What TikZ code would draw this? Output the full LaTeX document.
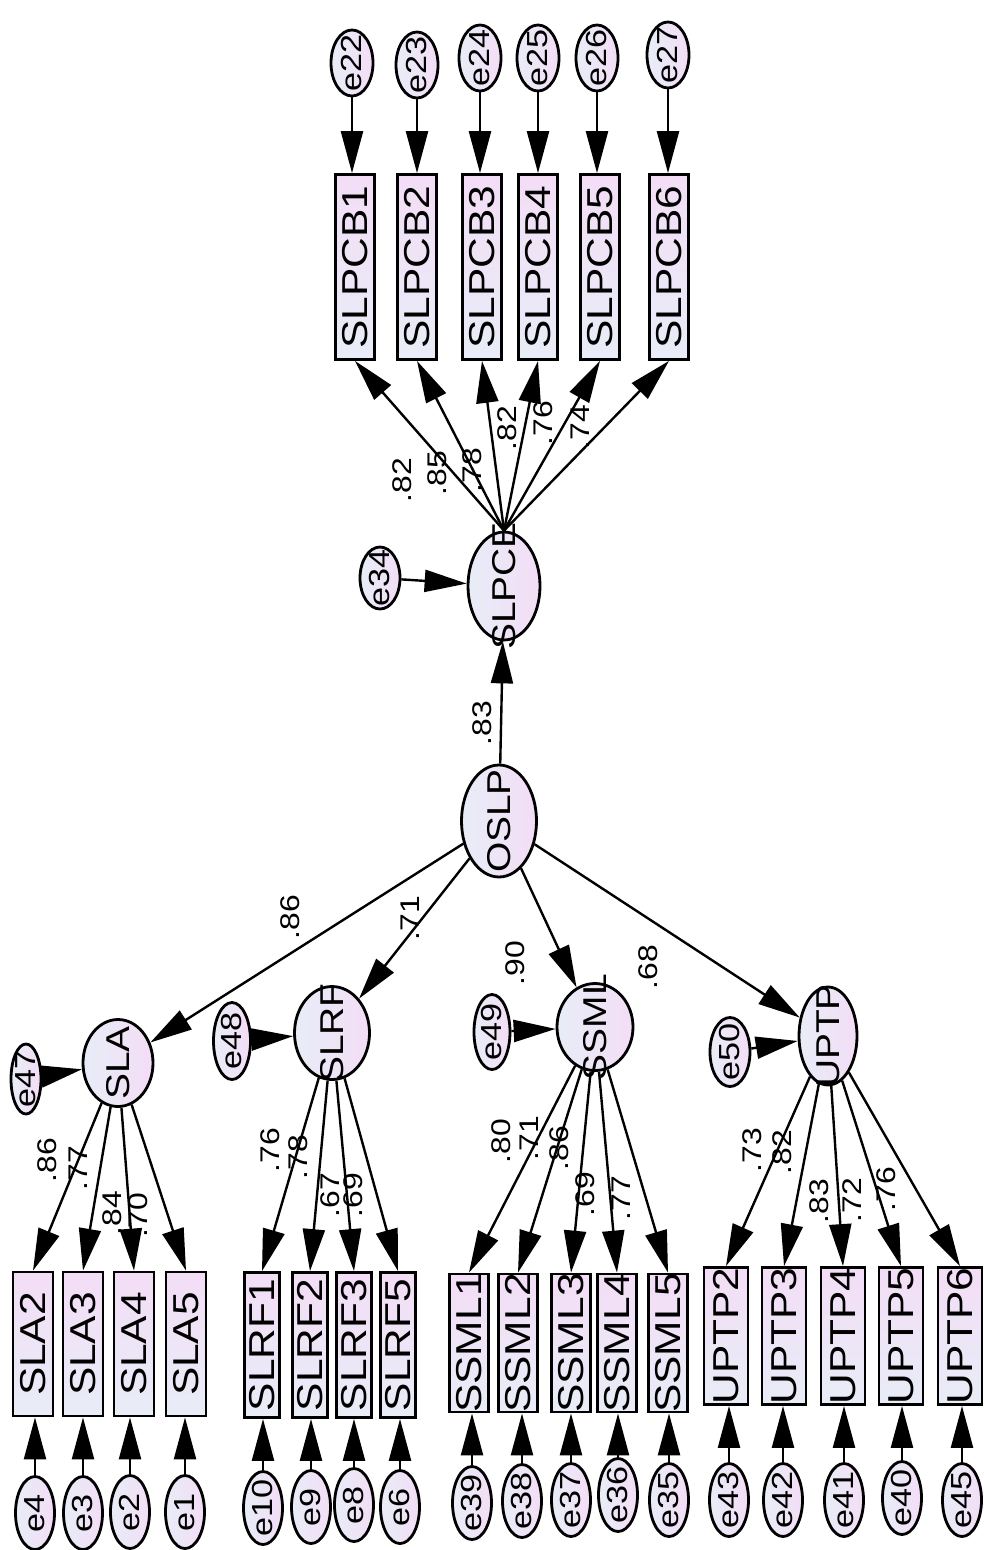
\documentclass[tikz,border=0pt]{standalone}
\usepackage{fontspec}
\setmainfont{Liberation Sans}
\usetikzlibrary{shapes.geometric,arrows.meta}
\definecolor{pinkc}{RGB}{243,221,246}
\definecolor{bluec}{RGB}{232,237,247}
\newcommand{\vtxt}[1]{\rotatebox{90}{\scalebox{1.18}[1]{#1}}}
\tikzset{
  obs/.style={draw, line width=2.8pt, rectangle, top color=pinkc, bottom color=bluec, inner sep=0pt},
  lat/.style={draw, line width=2.8pt, ellipse, shading angle=60, left color=bluec, right color=pinkc, inner sep=0pt},
  err/.style={draw, line width=2.8pt, ellipse, shading angle=60, left color=bluec, right color=pinkc, inner sep=0pt},
  obst/.style={label={[inner sep=0pt, font=\fontsize{36}{38}\selectfont]center:\vtxt{#1}}},
  latt/.style={label={[inner sep=0pt, font=\fontsize{33}{35}\selectfont]center:\vtxt{#1}}},
  errt/.style={label={[inner sep=0pt, font=\fontsize{29}{31}\selectfont]center:\vtxt{#1}}},
  lab/.style={inner sep=0pt, font=\fontsize{27}{29}\selectfont},
  arr/.style={-{Triangle[length=42pt,width=22pt]}, line width=2.4pt},
}
\begin{document}
\begin{tikzpicture}[x=1pt,y=-1pt]
\useasboundingbox (0,0) rectangle (984,1550);
% ---------- top error terms ----------
\foreach \n/\x/\y in {22/352/63, 23/417/65, 24/480/58, 25/538/58, 26/597/58, 27/668/55}
  \node[err, errt={e\n}, minimum width=42pt, minimum height=66pt] (e\n) at (\x,\y) {};
% ---------- SLPCB boxes ----------
\foreach \n/\x in {1/355, 2/417, 3/482, 4/538, 5/600, 6/669}
  \node[obs, obst={SLPCB\n}, minimum width=39pt, minimum height=185pt] (SLPCB\n) at (\x,267) {};
\foreach \n/\b in {22/1, 23/2, 24/3, 25/4, 26/5, 27/6}
  \draw[arr] (e\n) -- (e\n |- SLPCB\b.north);
% ---------- SLPCE ----------
\node[lat, latt={SLPCE}, minimum width=72pt, minimum height=108pt] (SLPCE) at (504,586) {};
\node[err, errt={e34}, minimum width=40pt, minimum height=62pt] (e34) at (380,578) {};
\draw[arr] (e34) -- (SLPCE);
\foreach \b in {1,...,6}
  \draw[arr] (SLPCE.north) -- (SLPCB\b.south);
\node[lab] (l1) at (402,480) {\vtxt{.82}};
\node[lab] (l2) at (437,473) {\vtxt{.85}};
\node[lab] (l3) at (472,470) {\vtxt{.78}};
\node[lab] (l4) at (507,428) {\vtxt{.82}};
\node[lab] (l5) at (543,423) {\vtxt{.76}};
\node[lab] (l6) at (580,427) {\vtxt{.74}};
% ---------- OSLP ----------
\node[lat, latt={OSLP}, minimum width=75pt, minimum height=112pt] (OSLP) at (499,821) {};
\draw[arr] (OSLP) -- (SLPCE);
\node[lab] (l7) at (482,723) {\vtxt{.83}};
% ---------- second-order factors ----------
\node[lat, latt={SLA}, minimum width=70pt, minimum height=87pt] (SLA) at (118,1063) {};
\node[lat, latt={SLRF}, minimum width=75pt, minimum height=93pt] (SLRF) at (332,1033) {};
\node[lat, latt={SSML}, minimum width=76pt, minimum height=87pt] (SSML) at (595,1027) {};
\node[lat, latt={UPTP}, minimum width=58pt, minimum height=98pt] (UPTP) at (828,1036) {};
\node[err, errt={e47}, minimum width=30pt, minimum height=70pt] (e47) at (26,1079) {};
\node[err, errt={e48}, minimum width=37pt, minimum height=77pt] (e48) at (232,1041) {};
\node[err, errt={e49}, minimum width=36pt, minimum height=75pt] (e49) at (492,1032) {};
\node[err, errt={e50}, minimum width=40pt, minimum height=69pt] (e50) at (730,1052) {};
\draw[arr] (e47) -- (SLA);
\draw[arr] (e48) -- (SLRF);
\draw[arr] (e49) -- (SSML);
\draw[arr] (e50) -- (UPTP);
\draw[arr] (OSLP) -- (SLA);
\draw[arr] (OSLP) -- (SLRF);
\draw[arr] (OSLP) -- (SSML);
\draw[arr] (OSLP) -- (UPTP);
\node[lab] (l8) at (290,917) {\vtxt{.86}};
\node[lab] (l9) at (410,918) {\vtxt{.71}};
\node[lab] (l10) at (515,963) {\vtxt{.90}};
\node[lab] (l11) at (648,967) {\vtxt{.68}};
% ---------- indicator boxes ----------
\foreach \n/\x in {2/33, 3/83, 4/134, 5/186}
  \node[obs, obst={SLA\n}, minimum width=40pt, minimum height=144pt] (SLA\n) at (\x,1344) {};
\foreach \n/\x in {1/262, 2/310, 3/354, 5/398}
  \node[obs, obst={SLRF\n}, minimum width=35pt, minimum height=145pt] (SLRF\n) at (\x,1345) {};
\foreach \n/\x in {1/469, 2/518, 3/571, 4/617, 5/668}
  \node[obs, obst={SSML\n}, minimum width=39pt, minimum height=138pt] (SSML\n) at (\x,1343) {};
\foreach \n/\x in {2/726, 3/784, 4/843, 5/901, 6/960}
  \node[obs, obst={UPTP\n}, minimum width=44pt, minimum height=137pt] (UPTP\n) at (\x,1336) {};
\foreach \n in {2,3,4,5} \draw[arr] (SLA) -- (SLA\n.north);
\foreach \n in {1,2,3,5} \draw[arr] (SLRF) -- (SLRF\n.north);
\foreach \n in {1,...,5} \draw[arr] (SSML) -- (SSML\n.north);
\foreach \n in {2,...,6} \draw[arr] (UPTP) -- (UPTP\n.north);
% loadings
\node[lab] (m1) at (47,1160) {\vtxt{.86}};
\node[lab] (m2) at (78,1168) {\vtxt{.77}};
\node[lab] (m3) at (112,1213) {\vtxt{.84}};
\node[lab] (m4) at (138,1215) {\vtxt{.70}};
\node[lab] (m5) at (270,1150) {\vtxt{.76}};
\node[lab] (m6) at (298,1157) {\vtxt{.78}};
\node[lab] (m7) at (330,1195) {\vtxt{.67}};
\node[lab] (m8) at (353,1195) {\vtxt{.69}};
\node[lab] (m9) at (501,1141) {\vtxt{.80}};
\node[lab] (m10) at (529,1138) {\vtxt{.71}};
\node[lab] (m11) at (559,1148) {\vtxt{.86}};
\node[lab] (m12) at (585,1194) {\vtxt{.69}};
\node[lab] (m13) at (621,1198) {\vtxt{.77}};
\node[lab] (m14) at (752,1150) {\vtxt{.73}};
\node[lab] (m15) at (782,1152) {\vtxt{.82}};
\node[lab] (m16) at (819,1201) {\vtxt{.83}};
\node[lab] (m17) at (852,1200) {\vtxt{.72}};
\node[lab] (m18) at (886,1189) {\vtxt{.76}};
% ---------- bottom error terms ----------
\foreach \n/\x/\y/\b in {4/35/1513/SLA2, 3/83/1513/SLA3, 2/130/1512/SLA4, 1/185/1512/SLA5,
  10/263/1508/SLRF1, 9/311/1507/SLRF2, 8/354/1505/SLRF3, 6/400/1507/SLRF5,
  39/472/1503/SSML1, 38/522/1501/SSML2, 37/571/1500/SSML3, 36/618/1495/SSML4, 35/669/1500/SSML5,
  43/729/1500/UPTP2, 42/783/1500/UPTP3, 41/844/1500/UPTP4, 40/902/1498/UPTP5, 45/962/1500/UPTP6}
{
  \node[err, errt={e\n}, minimum width=39pt, minimum height=73pt] (e\n) at (\x,\y) {};
  \draw[arr] (e\n) -- (e\n |- \b.south);
}
\end{tikzpicture}
\end{document}
